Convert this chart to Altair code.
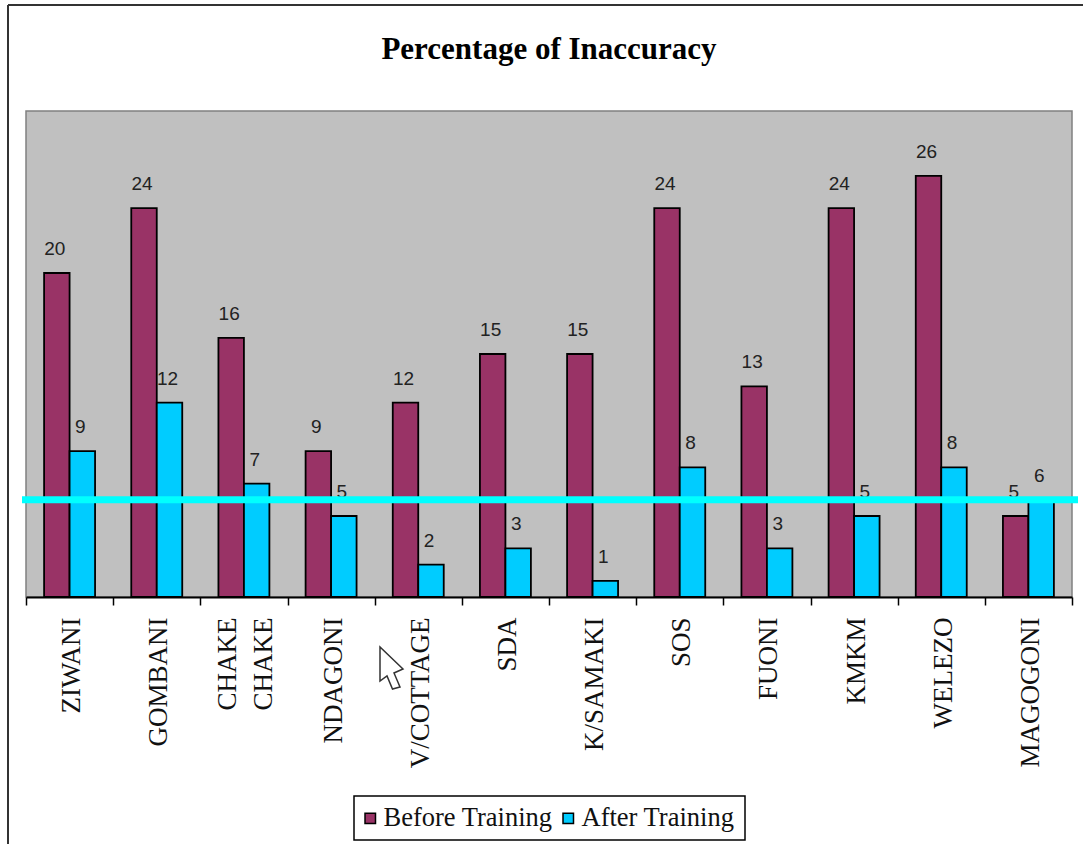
import altair as alt
import pandas as pd

sites = ["ZIWANI", "GOMBANI", "CHAKE CHAKE", "NDAGONI", "V/COTTAGE", "SDA",
         "K/SAMAKI", "SOS", "FUONI", "KMKM", "WELEZO", "MAGOGONI"]
before_training = [20, 24, 16, 9, 12, 15, 15, 24, 13, 24, 26, 5]
after_training = [9, 12, 7, 5, 2, 3, 1, 8, 3, 5, 8, 6]
series_names = ["Before Training", "After Training"]
series_colors = ["#993366", "#00CCFF"]
reference_level = 6

rows = []
for site, b, a in zip(sites, before_training, after_training):
    rows.append({"site": site, "series": series_names[0], "value": b})
    rows.append({"site": site, "series": series_names[1], "value": a})
df = pd.DataFrame(rows)

W, H = 1046, 486
single = alt.Data(values=[{"n": 1}])

x = alt.X(
    "site:N", sort=sites, title=None,
    scale=alt.Scale(paddingInner=0, paddingOuter=0),
    axis=alt.Axis(
        labelAngle=270, labelAlign="right", labelBaseline="middle",
        labelFont="Liberation Serif", labelFontSize=27, labelColor="#111111",
        labelPadding=12, labelLineHeight=36, tickBand="extent", tickSize=8,
        tickColor="#000000", tickWidth=1.5, domainColor="#000000", domainWidth=2,
        labelOverlap=False, grid=False,
        labelOffset={"condition": {"test": "datum.value == 'CHAKE CHAKE'", "value": -16}, "value": 2},
        labelExpr="datum.label == 'CHAKE CHAKE' ? ['CHAKE', 'CHAKE'] : datum.label",
    ),
)
x_offset = alt.XOffset(
    "series:N", sort=series_names,
    scale=alt.Scale(paddingInner=0, paddingOuter=0.71),
)
y = alt.Y("value:Q", title=None, axis=None, scale=alt.Scale(domain=[0, 29.85]))

bars = alt.Chart(df).mark_bar(stroke="#000000", strokeWidth=1.8).encode(
    x=x, xOffset=x_offset, y=y,
    color=alt.Color(
        "series:N", sort=series_names,
        scale=alt.Scale(domain=series_names, range=series_colors),
        legend=alt.Legend(
            title=None, orient="none", legendX=331, legendY=694,
            direction="horizontal", columns=2, columnPadding=2,
            symbolType="square", symbolSize=110, symbolStrokeColor="#000000",
            symbolStrokeWidth=1.5, labelFont="Liberation Serif", labelFontSize=26.5,
            labelColor="#111111", labelLimit=300, padding=0, symbolOpacity=1,
            labelOffset=0,
        ),
    ),
)

labels = alt.Chart(df).mark_text(
    font="Liberation Sans", fontSize=19, color="#222222", baseline="bottom",
    dy=-14, dx=-2,
).encode(x=x, xOffset=x_offset, y=y, text="value:Q")

level = alt.Chart(single).mark_rule(color="#00FFFF", strokeWidth=7).encode(
    y=alt.datum(reference_level), x=alt.value(-4), x2=alt.value(1052),
)

# Sheet edge around the chart: top and left only
edge_top = alt.Chart(single).mark_rule(color="#333333", strokeWidth=2).encode(
    x=alt.value(-18), x2=alt.value(1057), y=alt.value(-106),
)
edge_left = alt.Chart(single).mark_rule(color="#333333", strokeWidth=2).encode(
    x=alt.value(-18), y=alt.value(-106), y2=alt.value(733),
)

# Frame behind the legend entries
legend_box = alt.Chart(single).mark_rect(
    fill="#ffffff", stroke="#000000", strokeWidth=1.5,
).encode(x=alt.value(328), x2=alt.value(719), y=alt.value(685), y2=alt.value(729))

pointer_shape = "M0,0 L0,3.4 L0.7,2.9 L1.25,4.2 L2.0,4.0 L1.4,2.6 L2.3,2.2 Z"
pointer = alt.Chart(single).mark_point(
    shape=pointer_shape, filled=True, fill="#ffffff", stroke="#333333",
    strokeWidth=1.5, size=400, opacity=1,
).encode(x=alt.value(354), y=alt.value(536))

chart = alt.layer(legend_box, bars, labels, level, edge_top, edge_left, pointer).properties(
    width=W, height=H,
    padding={"left": 26, "top": 111, "right": 11, "bottom": 247},
    autosize=alt.AutoSizeParams(type="none"),
    background="#ffffff",
    title=alt.TitleParams(
        "Percentage of Inaccuracy", font="Liberation Serif", fontSize=31,
        fontWeight="bold", color="#000000", anchor="middle", offset=-62,
    ),
).configure_view(fill="#C0C0C0", stroke="#808080", strokeWidth=1.5)

chart.save("out.html", embed_options={"renderer": "svg", "actions": False})
